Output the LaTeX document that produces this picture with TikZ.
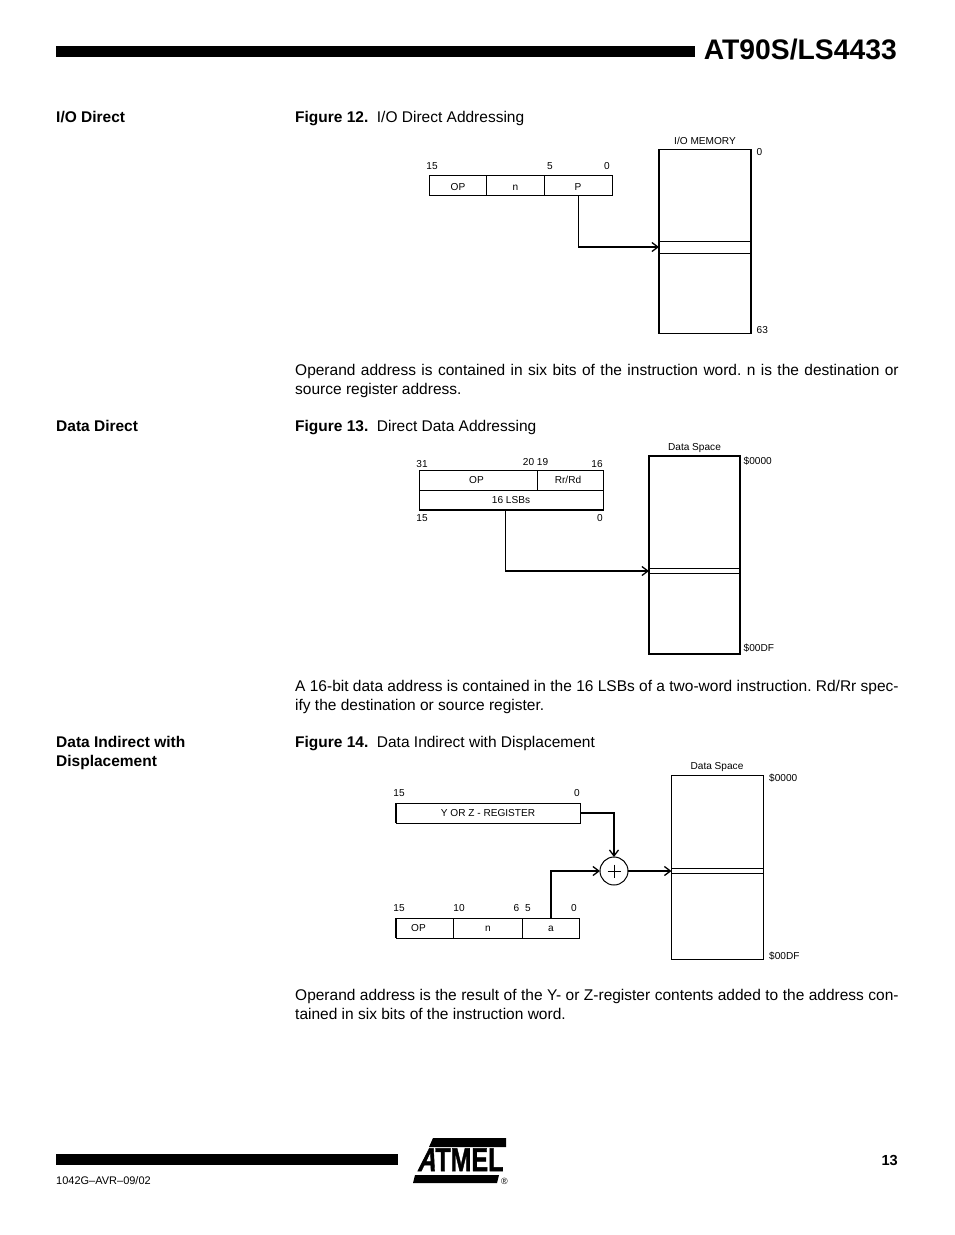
\documentclass[tikz,border=0pt]{standalone}
\usepackage{fontspec}
\setmainfont{Liberation Sans}
\newcommand{\bodyf}{\fontsize{15.5pt}{19pt}\selectfont}
\newcommand{\smallf}{\fontsize{10.1pt}{11pt}\selectfont}
\newcommand{\jline}[1]{\makebox[603.5pt][s]{\strut #1}}
\usetikzlibrary{arrows.meta}
\tikzset{
  x=1pt,y=-1pt,
  bar/.style={fill=black,draw=none},
  body/.style={anchor=base west,inner sep=0pt,font=\bodyf},
  head/.style={anchor=base west,inner sep=0pt,font=\bodyf\bfseries},
  lab/.style={anchor=base,inner sep=0pt,font=\smallf},
  labw/.style={anchor=base west,inner sep=0pt,font=\smallf},
  cell/.style={draw=black,line width=1pt,anchor=north west,inner sep=0pt,font=\smallf,outer sep=0pt},
  cellt/.style={anchor=base,inner sep=0pt,font=\smallf},
  memthick/.style={draw=black,line width=1.6pt,anchor=north west,inner sep=0pt,outer sep=0pt},
  memthin/.style={draw=black,line width=1pt,anchor=north west,inner sep=0pt,outer sep=0pt},
  conn/.style={draw=black,line width=1.7pt,-{Straight Barb[length=6pt,width=9pt,line width=1.3pt]}},
}
\begin{document}
\begin{tikzpicture}
\useasboundingbox (0,0) rectangle (954,1235);
\fill[white] (0,0) rectangle (954,1235);
% header and footer
\node[bar,anchor=north west,minimum width=639pt,minimum height=11pt,inner sep=0pt] (topbar) at (56,46) {};
\node[anchor=base east,inner sep=0pt,font=\fontsize{28.3pt}{30pt}\selectfont\bfseries] (title) at (897,59) {AT90S/LS4433};
\node[bar,anchor=north west,minimum width=342pt,minimum height=11pt,inner sep=0pt] (footbar) at (56,1154) {};
\node[anchor=base west,inner sep=0pt,font=\fontsize{11pt}{12pt}\selectfont] (code) at (56,1184) {1042G–AVR–09/02};
\node[anchor=base east,inner sep=0pt,font=\fontsize{14.6pt}{16pt}\selectfont\bfseries] (pageno) at (898,1165) {13};
% logo
\fill[black] (433,1138) -- (506,1138) -- (506,1147) -- (429,1147) -- cycle;
\fill[black] (413,1183) -- (497,1183) -- (499,1175) -- (415,1175) -- cycle;
\node[anchor=base west,inner sep=0pt,font=\fontsize{33pt}{33pt}\selectfont\bfseries,xscale=0.76] (logotext) at (417,1171) {\addfontfeatures{FakeBold=1.5}{\addfontfeatures{FakeSlant=0.3}A}TMEL};
\node[anchor=base west,inner sep=0pt,font=\fontsize{9pt}{9pt}\selectfont] (reg) at (501,1184.5) {®};
% section heads
\node[head] (h1) at (56,122) {I/O Direct};
\node[head] (h2) at (56,431) {Data Direct};
\node[head] (h3) at (56,747) {Data Indirect with};
\node[head] (h3b) at (56,766) {Displacement};
% captions
\node[body] (c1) at (295,122) {\textbf{Figure 12.}\hspace{8.5pt}I/O Direct Addressing};
\node[body] (c2) at (295,431) {\textbf{Figure 13.}\hspace{8.5pt}Direct Data Addressing};
\node[body] (c3) at (295,747) {\textbf{Figure 14.}\hspace{8.5pt}Data Indirect with Displacement};
% paragraphs
\node[body] (p1a) at (295,375) {\frenchspacing\jline{Operand address is contained in six bits of the instruction word. n is the destination or}};
\node[body] (p1b) at (295,394) {source register address.};
\node[body] (p2a) at (295,691) {\frenchspacing\jline{A 16-bit data address is contained in the 16 LSBs of a two-word instruction. Rd/Rr spec-}};
\node[body] (p2b) at (295,710) {ify the destination or source register.};
\node[body] (p3a) at (295,1000) {\frenchspacing\jline{Operand address is the result of the Y- or Z-register contents added to the address con-}};
\node[body] (p3b) at (295,1019) {tained in six bits of the instruction word.};
% Figure 12
\node[cell,minimum width=57pt,minimum height=20pt] (f1op) at (429.5,175.5) {};
\node[cell,minimum width=58pt,minimum height=20pt] (f1n) at (486.5,175.5) {};
\node[cell,minimum width=68pt,minimum height=20pt] (f1p) at (544.5,175.5) {};
\node[cellt] at (458,190) {OP};
\node[cellt] at (515.5,190) {n};
\node[cellt] at (578,190) {P};
\draw[line width=1.6pt] (f1p.north east) -- (f1p.south east);
\node[lab] at (432,169.5) {15};
\node[lab] at (550,169.5) {5};
\node[lab] at (607,169.5) {0};
\node[memthick,minimum width=92pt,minimum height=184pt] (f1mem) at (659,149.5) {};
\node[memthin,minimum width=92pt,minimum height=12pt] (f1row) at (659,241.5) {};
\node[lab] at (705,144) {I/O MEMORY};
\node[labw] at (756.5,155) {0};
\node[labw] at (756.5,333) {63};
\coordinate (f1t) at (659,247);
\draw[conn] (f1p.south) |- (f1t);
% Figure 13
\node[cell,minimum width=118pt,minimum height=20pt] (f2op) at (419.5,470) {};
\node[cell,minimum width=66pt,minimum height=20pt] (f2rr) at (537.5,470) {};
\node[cell,minimum width=184pt,minimum height=20pt] (f2lsb) at (419.5,490) {};
\node[cellt] at (476.5,483.5) {OP};
\node[cellt] at (568,483.5) {Rr/Rd};
\node[cellt] at (511,503) {16 LSBs};
\draw[line width=1.6pt] (f2rr.north east) -- (f2lsb.south east) -- (f2lsb.south west);
\node[lab] at (422,467) {31};
\node[lab] at (528.5,465) {20};
\node[lab] at (542.5,465) {19};
\node[lab] at (597,467) {16};
\node[lab] at (422,521) {15};
\node[lab] at (600,521) {0};
\node[memthick,minimum width=91pt,minimum height=198pt] (f2mem) at (649,456) {};
\node[memthin,minimum width=91pt,minimum height=5pt] (f2row) at (649,568.5) {};
\node[lab] at (694.5,450) {Data Space};
\node[labw] at (743.5,464) {\$0000};
\node[labw] at (743.5,651) {\$00DF};
\coordinate (f2t) at (649,571);
\draw[conn] (f2lsb.south west -| 505.5,0) |- (f2t);
% Figure 14
\node[cell,minimum width=184.5pt,minimum height=20pt] (f3reg) at (396,803) {};
\node[cellt] at (488,816) {Y OR Z - REGISTER};
\draw[line width=1.6pt] (f3reg.north west) -- (f3reg.south west);
\node[lab] at (399,796) {15};
\node[lab] at (577,796) {0};
\node[lab] at (399,911) {15};
\node[lab] at (459,911) {10};
\node[lab] at (516.5,911) {6};
\node[lab] at (528,911) {5};
\node[lab] at (574,911) {0};
\node[cell,minimum width=57.5pt,minimum height=20pt] (f3op) at (396,918) {};
\node[cell,minimum width=69pt,minimum height=20pt] (f3n) at (453.5,918) {};
\node[cell,minimum width=57pt,minimum height=20pt] (f3a) at (522.5,918) {};
\node[cellt] at (418.5,931) {OP};
\node[cellt] at (488,931) {n};
\node[cellt] at (551,931) {a};
\draw[line width=1.6pt] (f3op.north west) -- (f3op.south west);
\node[draw=black,line width=1pt,circle,minimum size=28pt,inner sep=0pt,outer sep=0pt] (f3sum) at (614,871) {};
\draw[line width=0.7pt] (607.5,871) -- (620.5,871) (614,864.5) -- (614,877.5);
\node[memthin,minimum width=92pt,minimum height=184pt] (f3mem) at (671.5,775.5) {};
\node[memthin,minimum width=92pt,minimum height=5pt] (f3row) at (671.5,868.5) {};
\node[lab] at (717,769) {Data Space};
\node[labw] at (769,781) {\$0000};
\node[labw] at (769,959) {\$00DF};
\coordinate (f3t) at (671.5,871);
\draw[conn] (f3reg.east) -| (f3sum.north);
\draw[conn] (f3a.north -| 551,0) |- (f3sum.west);
\draw[conn] (f3sum.east) -- (f3t);
\end{tikzpicture}
\end{document}
